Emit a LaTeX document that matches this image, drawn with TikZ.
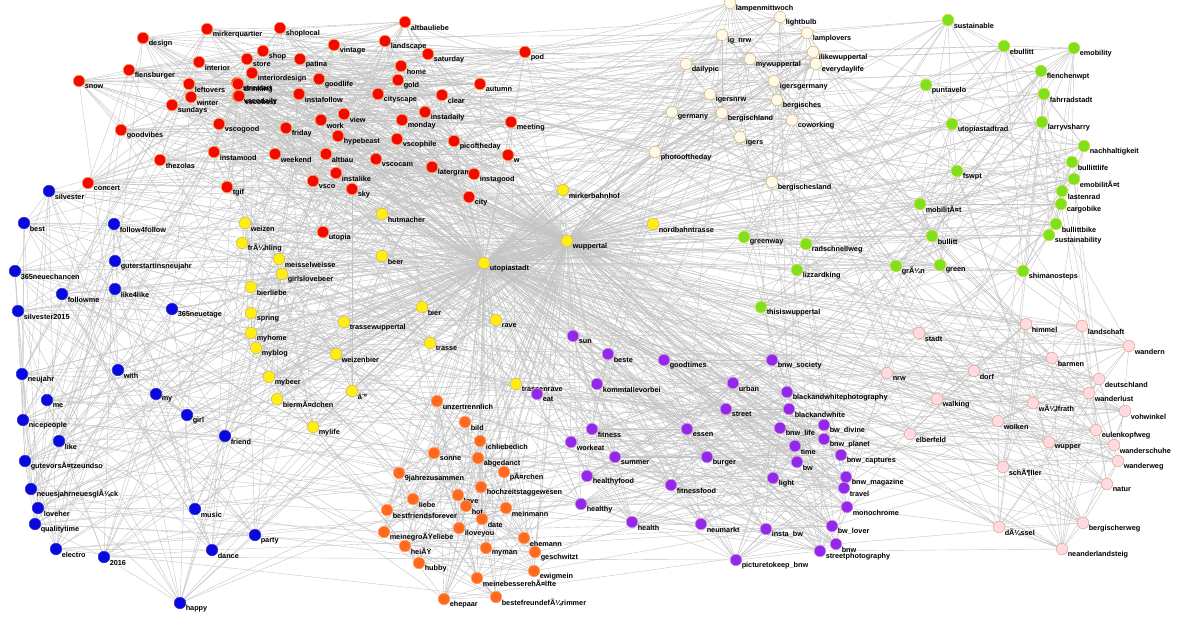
\documentclass[tikz,border=0pt]{standalone}
\usepackage{fontspec}
\setmainfont{Liberation Sans}
\usepackage{xcolor}
\definecolor{nred}{HTML}{F20A00}
\definecolor{ored}{HTML}{FF9A50}
\definecolor{ncream}{HTML}{FFF9EC}
\definecolor{ocream}{HTML}{D9BA78}
\definecolor{ngreen}{HTML}{80E01C}
\definecolor{ogreen}{HTML}{C4E040}
\definecolor{nyellow}{HTML}{FFEE14}
\definecolor{oyellow}{HTML}{D8BC50}
\definecolor{nblue}{HTML}{0808E0}
\definecolor{oblue}{HTML}{3434C8}
\definecolor{norange}{HTML}{FF6A1E}
\definecolor{oorange}{HTML}{FFA066}
\definecolor{npurple}{HTML}{9428EA}
\definecolor{opurple}{HTML}{C890E0}
\definecolor{npink}{HTML}{FFDAE4}
\definecolor{opink}{HTML}{E0AE88}
\definecolor{edgegray}{HTML}{C4C4C4}
\pgfdeclarelayer{bg}
\pgfsetlayers{bg,main}
\tikzset{
  dot/.style 2 args={circle, fill=#1, draw=#2, line width=0.6pt,
                     minimum size=11.5pt, inner sep=0pt},
  lbl/.style={font=\fontsize{7.3}{8}\selectfont\bfseries, text=black,
              inner sep=0pt, xshift=-0.5pt, yshift=-5.5pt},
  link/.style={draw=edgegray, line width=0.38pt}
}
% links inside one group: node i to node i+d
\newcommand\ringlink[3]{%
  \foreach \i in {1,...,#2}{\foreach \d in {#3}{%
    \pgfmathtruncatemacro\j{mod(\i+\d-1,#2)+1}%
    \draw[link] (#1\i) -- (#1\j);}}}
% links from one group to another
\newcommand\crosslink[5]{%
  \foreach \i in {1,...,#2}{%
    \pgfmathtruncatemacro\j{mod(\i*#5,#4)+1}%
    \draw[link] (#1\i) -- (#3\j);}}
\begin{document}
\begin{tikzpicture}[x=1pt,y=-1pt]
  \useasboundingbox (0,0) rectangle (1200,624);
  % hubs
  \node[dot={nyellow}{oyellow}, label={[lbl]right:utopiastadt}] (utopiastadt) at (484,263) {};
  \node[dot={nyellow}{oyellow}, label={[lbl]right:wuppertal}] (wuppertal) at (567,241) {};
  % red
  \foreach \px/\py/\lab [count=\i] in {143/38/design, 207/29/mirkerquartier, 280/28/shoplocal,
      405/22/altbauliebe, 334/45/vintage, 385/41/landscape, 428/54/saturday, 525/52/pod,
      263/51/shop, 247/59/store, 300/59/patina, 199/62/interior, 401/66/home,
      252/73/interiordesign, 129/70/flensburger, 319/79/goodlife, 398/80/gold, 79/81/snow,
      189/84/leftovers, 480/84/autumn, 237/83/streetart, 238/84/drinking, 191/97/winter,
      238/96/vscodaily, 239/96/vscobest, 299/94/instafollow, 378/94/cityscape, 442/95/clear,
      172/105/sundays, 425/112/instadaily, 344/114/view, 321/120/work, 402/120/monday,
      511/122/meeting, 219/124/vscogood, 286/128/friday, 121/130/goodvibes, 338/136/hypebeast,
      397/139/vscophile, 454/141/picoftheday, 214/152/instamood, 275/154/weekend,
      326/154/altbau, 508/155/w, 376/159/vscocam, 160/160/thezolas, 432/167/latergram,
      336/173/instalike, 474/174/instagood, 313/181/vsco, 88/183/concert, 227/187/tgif,
      352/189/sky, 469/197/city, 323/232/utopia}
    \node[dot={nred}{ored}, label={[lbl]right:\lab}] (r\i) at (\px,\py) {};
  % cream
  \foreach \px/\py/\lab [count=\i] in {730/3/lampenmittwoch, 780/17/lightbulb,
      807/33/lamplovers, 722/35/ig\_nrw, 813/52/ilikewuppertal, 750/59/mywuppertal,
      686/64/dailypic, 816/64/everydaylife, 774/81/igersgermany, 710/94/igersnrw,
      777/100/bergisches, 672/112/germany, 722/113/bergischland, 792/120/coworking,
      740/137/igers, 655/152/photooftheday, 772/182/bergischesland}
    \node[dot={ncream}{ocream}, label={[lbl]right:\lab}] (c\i) at (\px,\py) {};
  % green
  \foreach \px/\py/\lab [count=\i] in {948/20/sustainable, 1004/46/ebullitt,
      1074/48/emobility, 1041/71/flenchenwpt, 926/85/puntavelo, 1044/94/fahrradstadt,
      1042/122/larryvsharry, 952/124/utopiastadtrad, 1084/146/nachhaltigkeit,
      1072/162/bullittlife, 957/171/fswpt, 1074/179/emobilitÃ¤t, 1062/191/lastenrad,
      1061/204/cargobike, 920/204/mobilitÃ¤t, 1056/224/bullittbike, 1049/235/sustainability,
      932/236/bullitt, 744/237/greenway, 806/244/radschnellweg, 896/266/grÃ¼n, 940/265/green,
      797/270/lizzardking, 1023/271/shimanosteps, 761/307/thisiswuppertal}
    \node[dot={ngreen}{ogreen}, label={[lbl]right:\lab}] (g\i) at (\px,\py) {};
  % yellow
  \foreach \px/\py/\lab [count=\i] in {563/190/mirkerbahnhof, 382/214/hutmacher,
      653/224/nordbahntrasse, 245/223/weizen, 242/243/frÃ¼hling, 382/256/beer,
      279/259/meisselweisse, 282/274/girlslovebeer, 251/287/bierliebe, 422/307/bier,
      251/313/spring, 496/320/rave, 344/322/trassewuppertal, 251/333/myhome, 430/343/trasse,
      256/348/myblog, 336/354/weizenbier, 269/377/mybeer, 516/384/trassenrave, 352/391/â˜º,
      277/399/biermÃ¤dchen, 313/427/mylife}
    \node[dot={nyellow}{oyellow}, label={[lbl]right:\lab}] (y\i) at (\px,\py) {};
  % blue
  \foreach \px/\py/\lab [count=\i] in {49/191/silvester, 24/223/best, 114/224/follow4follow,
      115/261/guterstartinsneujahr, 15/271/365neuechancen, 115/289/like4like,
      62/294/followme, 172/309/365neuetage, 18/311/silvester2015, 118/370/with,
      22/374/neujahr, 156/394/my, 47/400/me, 187/415/girl, 23/420/nicepeople,
      225/436/friend, 59/441/like, 25/461/gutevorsÃ¤tzeundso, 31/489/neuesjahrneuesglÃ¼ck,
      38/508/loveher, 195/509/music, 35/524/qualitytime, 255/535/party, 56/549/electro,
      212/550/dance, 104/557/2016, 180/603/happy}
    \node[dot={nblue}{oblue}, label={[lbl]right:\lab}] (b\i) at (\px,\py) {};
  % orange
  \foreach \px/\py/\lab [count=\i] in {437/401/unzertrennlich, 465/422/bild,
      480/441/ichliebedich, 434/453/sonne, 478/458/abgedanct, 504/472/pÃ¤rchen,
      399/473/9jahrezusammen, 481/487/hochzeitstaggewesen, 458/495/love, 413/499/liebe,
      466/506/hot, 506/508/meinmann, 387/510/bestfriendsforever, 482/519/date,
      459/528/iloveyou, 384/532/meinegroÃŸeliebe, 524/538/ehemann, 405/546/heiÃŸ,
      486/548/myman, 535/552/geschwitzt, 419/563/hubby, 534/571/ewigmein,
      477/578/meinebesserehÃ¤lfte, 496/597/bestefreundefÃ¼rimmer, 444/599/ehepaar}
    \node[dot={norange}{oorange}, label={[lbl]right:\lab}] (o\i) at (\px,\py) {};
  % purple
  \foreach \px/\py/\lab [count=\i] in {573/336/sun, 608/354/beste, 664/360/goodtimes,
      772/360/bnw\_society, 597/384/kommtallevorbei, 733/383/urban,
      787/392/blackandwhitephotography, 537/394/eat, 726/409/street, 789/409/blackandwhite,
      824/425/bw\_divine, 780/428/bnw\_life, 687/429/essen, 592/429/fitness,
      824/439/bnw\_planet, 571/442/workeat, 795/446/time, 841/455/bnw\_captures,
      615/457/summer, 707/457/burger, 797/462/bw, 587/476/healthyfood, 846/477/bnw\_magazine,
      773/478/light, 671/485/fitnessfood, 844/488/travel, 581/504/healthy,
      847/507/monochrome, 632/522/health, 701/524/neumarkt, 832/526/bw\_lover,
      766/529/insta\_bw, 836/544/bnw, 820/551/streetphotography, 736/560/picturetokeep\_bnw}
    \node[dot={npurple}{opurple}, label={[lbl]right:\lab}] (p\i) at (\px,\py) {};
  % pink
  \foreach \px/\py/\lab [count=\i] in {1026/324/himmel, 1082/326/landschaft, 919/333/stadt,
      1129/346/wandern, 1052/358/barmen, 974/371/dorf, 887/373/nrw, 1099/379/deutschland,
      1089/393/wanderlust, 937/399/walking, 1033/403/wÃ¼lfrath, 1125/411/vohwinkel,
      998/421/wolken, 1096/430/eulenkopfweg, 910/434/elberfeld, 1049/442/wupper,
      1114/445/wanderschuhe, 1118/461/wanderweg, 1003/467/schÃ¶ller, 1107/484/natur,
      1083/523/bergischerweg, 999/527/dÃ¼ssel, 1062/549/neanderlandsteig}
    \node[dot={npink}{opink}, label={[lbl]right:\lab}] (k\i) at (\px,\py) {};

  \begin{pgfonlayer}{bg}
    \fill[white] (0,0) rectangle (1200,624);
    \draw[link] (utopiastadt) -- (wuppertal);
    \foreach \g/\n in {r/55, c/17, g/25, y/22, b/27, o/25, p/35, k/23}
      \foreach \i in {1,...,\n}{
        \draw[link] (\g\i) -- (utopiastadt);
        \draw[link] (\g\i) -- (wuppertal);}
    \ringlink{r}{55}{1,3,6,11,19,27}
    \ringlink{c}{17}{1,2,5,8}
    \ringlink{g}{25}{1,3,7,11}
    \ringlink{y}{22}{1,3,8}
    \ringlink{b}{27}{1,4,9,13}
    \ringlink{o}{25}{1,3,6,11}
    \ringlink{p}{35}{1,3,7,12,17}
    \ringlink{k}{23}{1,2,5,9}
    \crosslink{r}{55}{y}{22}{7}
    \crosslink{r}{55}{c}{17}{3}
    \crosslink{r}{55}{b}{27}{5}
    \crosslink{r}{55}{p}{35}{2}
    \crosslink{b}{27}{y}{22}{3}
    \crosslink{b}{27}{o}{25}{2}
    \crosslink{b}{27}{p}{35}{4}
    \crosslink{g}{25}{c}{17}{2}
    \crosslink{g}{25}{k}{23}{3}
    \crosslink{g}{25}{p}{35}{4}
    \crosslink{g}{25}{r}{55}{7}
    \crosslink{p}{35}{k}{23}{2}
    \crosslink{p}{35}{o}{25}{3}
    \crosslink{k}{23}{c}{17}{5}
    \crosslink{k}{23}{y}{22}{3}
    \crosslink{o}{25}{y}{22}{5}
    \crosslink{c}{17}{p}{35}{3}
    \crosslink{c}{17}{y}{22}{4}
  \end{pgfonlayer}
\end{tikzpicture}
\end{document}
